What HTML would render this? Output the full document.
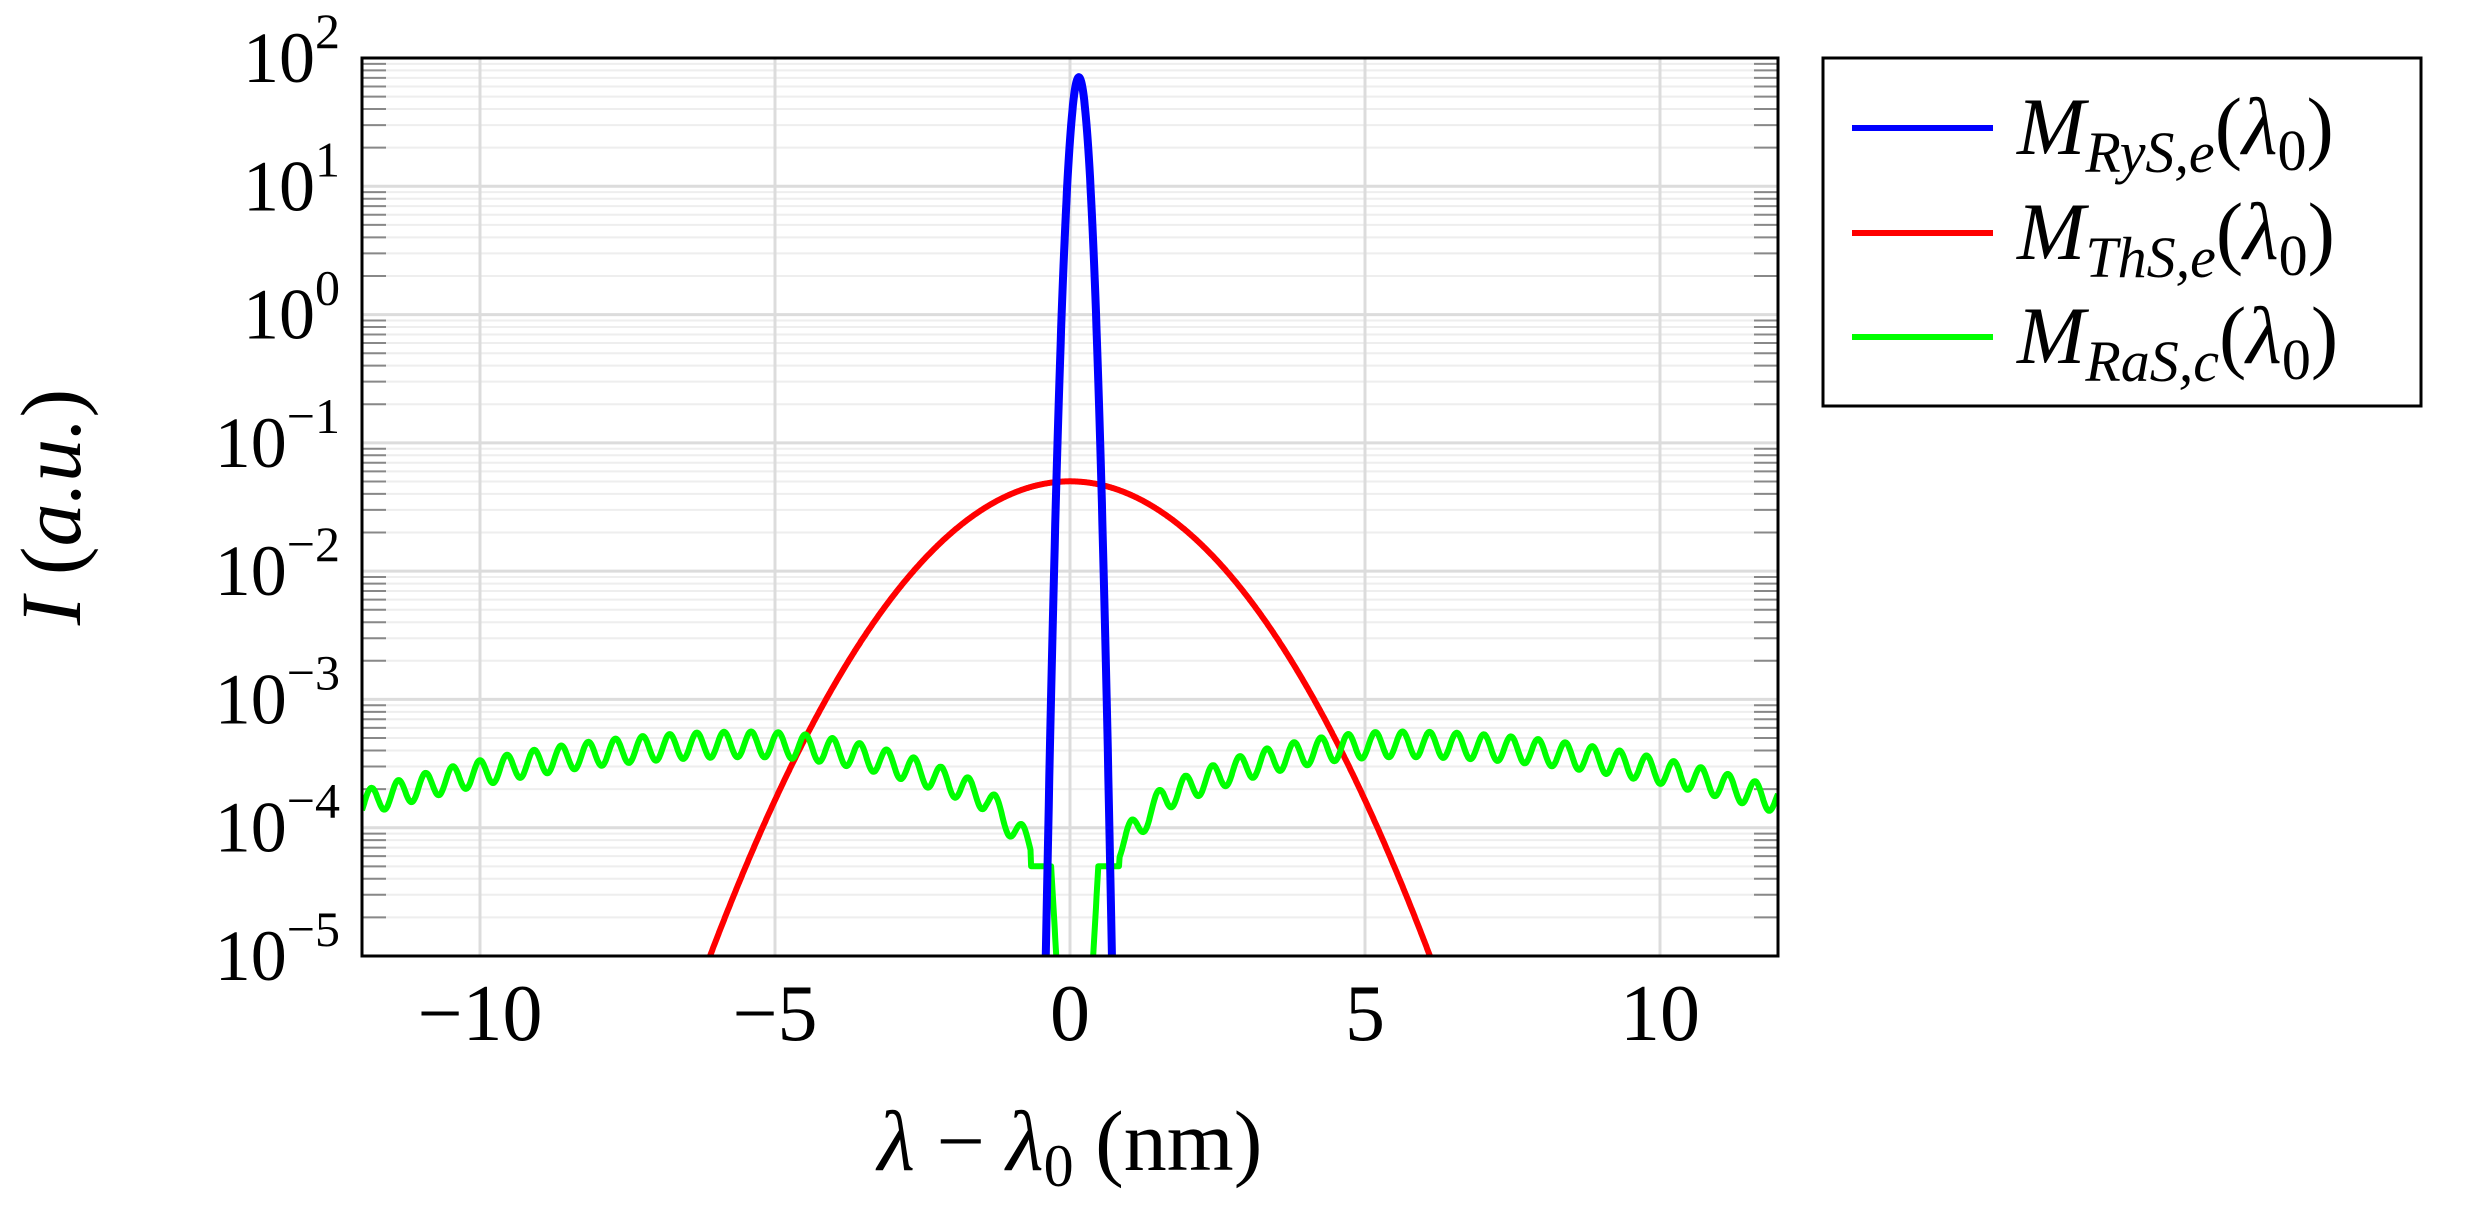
<!DOCTYPE html>
<html><head><meta charset="utf-8"><style>
html,body{margin:0;padding:0;background:#fff;overflow:hidden;width:2482px;height:1221px}
svg{display:block}
text{font-family:"Liberation Serif",serif;fill:#000}
</style></head><body>
<svg id="s" width="2482" height="1221" xmlns="http://www.w3.org/2000/svg"></svg>
<script>
const L=362,R=1778,T=58,B=956;
const X=x=>1070+x*59, Y=l=>T+(2-l)*(B-T)/7;
let h='';
for(let d=-5;d<2;d++)for(let k=2;k<10;k++){const y=Y(d+Math.log10(k));
h+=`<line x1="${L}" x2="${R}" y1="${y}" y2="${y}" stroke="#eee" stroke-width="2"/>`;
h+=`<line x1="${L}" x2="${L+24}" y1="${y}" y2="${y}" stroke="#888" stroke-width="2"/><line x1="${R-24}" x2="${R}" y1="${y}" y2="${y}" stroke="#888" stroke-width="2"/>`;}
for(let d=-5;d<=2;d++){const y=Y(d);h+=`<line x1="${L}" x2="${R}" y1="${y}" y2="${y}" stroke="#dcdcdc" stroke-width="3"/>`;
h+=`<text x="340" y="${y+24}" font-size="72" text-anchor="end">10<tspan dy="-34" font-size="50">${d<0?'−'+(-d):d}</tspan></text>`;}
for(const v of[-10,-5,0,5,10]){const x=X(v);h+=`<line x1="${x}" x2="${x}" y1="${T}" y2="${B}" stroke="#dcdcdc" stroke-width="3"/>`;
h+=`<text x="${x}" y="1040" font-size="80" text-anchor="middle">${v<0?'−'+(-v):v}</text>`;}
h+=`<clipPath id="c"><rect x="${L}" y="${T}" width="${R-L}" height="${B-T}"/></clipPath><g clip-path="url(#c)">`;
function path(f,col,w){let p='';for(let x=-12;x<=12.0001;x+=0.01){p+=(p?'L':'M')+X(x).toFixed(1)+','+Y(f(x)).toFixed(1);}h+=`<path d="${p}" fill="none" stroke="${col}" stroke-width="${w}" stroke-linejoin="round"/>`;}
path(x=>-1.3-0.0994*x*x,'#f00',6);
path(x=>{const u=Math.abs(x-0.08);let e;
 if(u>5.5)e=-3.35-0.45*((u-5.5)/6.5)**2;else e=-3.35-0.42*((5.5-u)/4)**2;
 if(u<1.5)e=-3.77-0.5*(1.5-u);
 let o=0.1*Math.sin(2*Math.PI*x/0.46);
 if(u<0.75){e=-4.3;o=0;} if(u<0.4)e=-4.3-(0.4-u)*8;
 return e+o;},'#0f0',6);
path(x=>1.85-21.8*(x-0.15)**2,'#00f',8);
h+=`</g><rect x="${L}" y="${T}" width="${R-L}" height="${B-T}" fill="none" stroke="#000" stroke-width="3"/>`;
h+=`<text x="1070" y="1170" font-size="86" text-anchor="middle"><tspan font-style="italic">λ</tspan> − <tspan font-style="italic">λ</tspan><tspan font-size="60" dy="16">0</tspan><tspan dy="-16"> (nm)</tspan></text>`;
h+=`<text transform="translate(80,507) rotate(-90)" font-size="86" text-anchor="middle"><tspan font-style="italic">I</tspan> (<tspan font-style="italic">a.u.</tspan>)</text>`;
h+=`<rect x="1823" y="58" width="598" height="348" fill="#fff" stroke="#000" stroke-width="3"/>`;
const lg=[['#00f','RyS,e',128],['#f00','ThS,e',233],['#0f0','RaS,c',337]];
for(const[c,s,y]of lg){h+=`<line x1="1852" x2="1993" y1="${y}" y2="${y}" stroke="${c}" stroke-width="6"/>`;
h+=`<text x="2017" y="${y+26}" font-size="82"><tspan font-style="italic">M</tspan><tspan font-style="italic" font-size="58" dy="18">${s}</tspan><tspan dy="-18">(</tspan><tspan font-style="italic">λ</tspan><tspan font-size="58" dy="16">0</tspan><tspan dy="-16">)</tspan></text>`;}
document.getElementById('s').innerHTML=h;
</script>
</body></html>
